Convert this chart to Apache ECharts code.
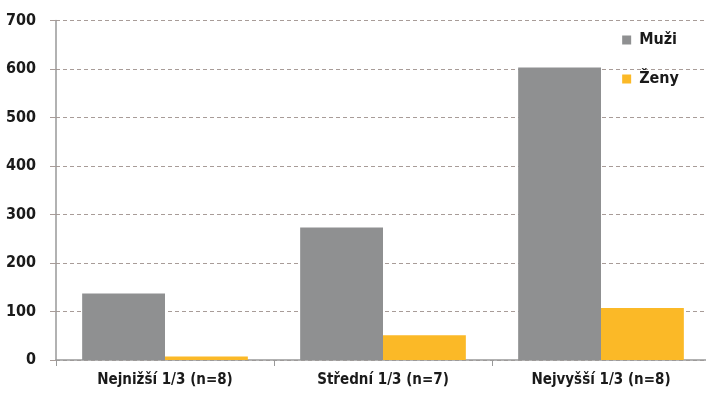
<!DOCTYPE html>
<html><head><meta charset="utf-8">
<script src="https://cdn.jsdelivr.net/npm/echarts@6/dist/echarts.min.js"></script>
<style>html,body{margin:0;padding:0;background:#fff}#c{width:706px;height:396px}</style>
</head><body><div id="c"></div>
<script>
const categories = ["Nejnižší 1/3 (n=8)", "Střední 1/3 (n=7)", "Nejvyšší 1/3 (n=8)"];
const muzi = [137, 273, 603];
const zeny = [7, 51, 107];
const seriesNames = ["Muži", "Ženy"];
const yTicks = [0, 100, 200, 300, 400, 500, 600, 700];

const FONT = '"DejaVu Sans Condensed", "DejaVu Sans", sans-serif';
const chart = echarts.init(document.getElementById('c'), null, {renderer: 'canvas'});
chart.setOption({
  animation: false,
  textStyle: {fontFamily: FONT},
  grid: {left: 56, width: 654, top: 20.5, bottom: 36, outerBoundsMode: 'none', containLabel: false},
  legend: {
    orient: 'vertical', right: 22, top: 27, itemGap: 23,
    itemWidth: 9, itemHeight: 9, icon: 'rect',
    textStyle: {fontFamily: FONT, fontWeight: 'bold', fontSize: 16, color: '#1a1a1a', padding: [0, 0, 0, 3]},
    data: seriesNames
  },
  xAxis: {
    type: 'category', data: categories,
    axisLine: {lineStyle: {color: '#999', width: 1.5}},
    axisTick: {show: true, length: 6, lineStyle: {color: '#999'}},
    axisLabel: {fontFamily: FONT, fontWeight: 'bold', fontSize: 15, color: '#1a1a1a', margin: 13}
  },
  yAxis: {
    type: 'value', min: yTicks[0], max: yTicks[yTicks.length - 1], interval: 100,
    axisLine: {show: true, lineStyle: {color: '#999', width: 1.5}},
    axisTick: {show: true, length: 6, inside: false, lineStyle: {color: '#a89c98'}},
    axisLabel: {fontFamily: FONT, fontWeight: 'bold', fontSize: 16, color: '#1a1a1a', margin: 20},
    splitLine: {show: true, lineStyle: {color: '#a89c98', type: [4, 3], width: 1}}
  },
  series: [
    {name: seriesNames[0], type: 'bar', data: muzi, barGap: '0%', barCategoryGap: '24%',
     itemStyle: {color: '#8f9091'}},
    {name: seriesNames[1], type: 'bar', data: zeny, barGap: '0%', barCategoryGap: '24%',
     itemStyle: {color: '#fbb927'}}
  ]
});
</script></body></html>
